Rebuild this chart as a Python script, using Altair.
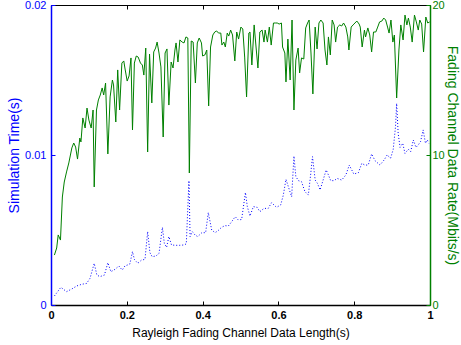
import altair as alt
import pandas as pd

# ---- data ----
rate_x = [0.009,0.015,0.019,0.025,0.030,0.035,0.041,0.047,0.055,0.060,
          0.065,0.070,0.076,0.079,0.084,0.090,0.095,0.100,0.106,0.111,
          0.114,0.120,0.125,0.130,0.135,0.139,0.144,0.150,0.156,0.162,
          0.165,0.171,0.176,0.181,0.187,0.192,0.195,0.201,0.206,0.211,
          0.215,0.220,0.225,0.230,0.236,0.241,0.245,0.250,0.255,0.260,
          0.266,0.271,0.276,0.280,0.285,0.290,0.296,0.301,0.306,0.311,
          0.317,0.322,0.327,0.330,0.335,0.340,0.346,0.351,0.356,0.361,
          0.365,0.370,0.375,0.381,0.386,0.391,0.397,0.400,0.406,0.411,
          0.416,0.421,0.427,0.432,0.437,0.442,0.448,0.451,0.456,0.460,
          0.465,0.469,0.474,0.479,0.485,0.490,0.495,0.501,0.506,0.511,
          0.516,0.522,0.525,0.530,0.536,0.541,0.546,0.551,0.557,0.562,
          0.565,0.571,0.576,0.581,0.587,0.592,0.597,0.602,0.608,0.611,
          0.617,0.620,0.625,0.631,0.636,0.641,0.646,0.652,0.656,0.661,
          0.667,0.672,0.677,0.681,0.686,0.691,0.697,0.702,0.707,0.712,
          0.718,0.723,0.728,0.732,0.737,0.742,0.747,0.751,0.756,0.762,
          0.767,0.772,0.778,0.783,0.786,0.792,0.797,0.802,0.807,0.813,
          0.816,0.821,0.827,0.830,0.836,0.841,0.846,0.851,0.857,0.862,
          0.867,0.873,0.878,0.883,0.888,0.892,0.897,0.902,0.906,0.912,
          0.918,0.923,0.929,0.934,0.939,0.943,0.948,0.953,0.959,0.964,
          0.969,0.973,0.978,0.983,0.989,0.994,0.999]
rate_mbps = [3.33,3.8,4.67,4.33,7.2,8.2,8.87,9.47,10.47,10.8,
             10.53,9.73,11.13,10.87,12.47,11.8,13.13,12.33,11.8,13.0,
             7.87,13.0,13.67,14.0,14.47,14.0,14.8,10.07,13.87,15.0,
             14.67,12.2,15.67,13.0,16.13,16.27,15.8,14.93,15.27,16.47,
             11.67,16.13,16.6,16.53,16.13,16.0,15.33,17.13,10.2,16.73,
             13.47,16.87,17.13,17.53,16.8,15.87,11.2,16.8,17.07,13.33,
             16.2,15.8,17.0,17.47,16.2,17.67,17.53,17.47,17.87,17.8,
             8.8,17.6,17.53,14.8,17.47,17.8,17.47,16.6,16.67,17.0,
             13.27,17.2,18.0,18.2,18.27,18.13,18.13,17.33,17.53,17.2,
             18.13,17.93,18.33,18.0,16.27,18.2,17.73,18.53,18.4,16.53,
             13.87,18.13,18.2,16.0,18.67,17.2,15.8,18.2,18.33,17.53,
             18.33,17.53,18.53,17.33,18.8,18.8,18.8,18.73,18.8,17.2,
             16.8,14.87,17.73,15.0,19.0,13.0,16.33,17.13,15.47,16.47,
             16.4,18.47,18.8,19.0,16.8,14.07,18.53,17.07,18.8,19.0,
             18.8,17.0,16.0,17.87,16.67,19.0,18.67,17.53,18.53,18.67,
             18.6,18.8,18.53,17.87,17.0,18.53,18.67,18.8,18.93,18.73,
             18.53,17.2,18.33,17.87,18.47,18.0,16.87,18.2,18.2,18.53,
             18.87,18.93,19.13,19.0,18.53,18.13,19.0,17.53,18.0,13.8,
             17.0,18.67,17.67,19.33,18.67,19.13,18.53,17.53,19.33,18.87,
             18.33,19.0,18.73,16.87,19.2,18.8,18.87]

time_x = [0.009,0.026,0.041,0.055,0.068,0.081,0.094,0.103,0.114,0.121,
          0.129,0.141,0.150,0.158,0.169,0.179,0.188,0.195,0.208,0.215,
          0.220,0.229,0.239,0.248,0.255,0.261,0.267,0.277,0.285,0.294,
          0.299,0.305,0.311,0.318,0.329,0.340,0.349,0.357,0.364,0.367,
          0.373,0.380,0.387,0.398,0.408,0.415,0.424,0.433,0.441,0.450,
          0.459,0.468,0.477,0.486,0.494,0.503,0.513,0.518,0.525,0.534,
          0.544,0.551,0.562,0.573,0.582,0.595,0.606,0.613,0.620,0.629,
          0.635,0.641,0.646,0.653,0.661,0.670,0.679,0.685,0.690,0.697,
          0.703,0.710,0.718,0.726,0.732,0.738,0.747,0.755,0.767,0.778,
          0.787,0.799,0.811,0.820,0.828,0.837,0.846,0.855,0.868,0.879,
          0.887,0.896,0.903,0.909,0.912,0.916,0.921,0.928,0.934,0.943,
          0.949,0.956,0.963,0.969,0.975,0.982,0.988,0.993,0.997]
time_s = [0.0006,0.00118,0.00089,0.00107,0.00127,0.00138,0.00144,0.00178,0.00278,0.0020,
          0.00189,0.0020,0.00282,0.00222,0.00238,0.0026,0.00233,0.0026,0.00273,0.00356,
          0.00304,0.00278,0.0030,0.00304,0.00489,0.00349,0.00322,0.00327,0.00344,0.00518,
          0.00411,0.00384,0.00456,0.0040,0.00398,0.00398,0.0040,0.00407,0.00829,0.00456,
          0.00489,0.00467,0.00456,0.00482,0.00482,0.00616,0.0050,0.00482,0.00496,0.00518,
          0.00529,0.00527,0.00556,0.00589,0.00567,0.0057,0.0075,0.00656,0.00593,0.00656,
          0.00651,0.00622,0.00644,0.00644,0.00682,0.00651,0.00667,0.00733,0.00838,0.00767,
          0.00722,0.00993,0.00856,0.00829,0.00822,0.00756,0.00733,0.00867,0.00989,0.00833,
          0.00811,0.00767,0.00833,0.0090,0.00867,0.00829,0.00829,0.00844,0.00833,0.00867,
          0.00933,0.00873,0.00882,0.00944,0.00933,0.00933,0.01007,0.00962,0.00933,0.00967,
          0.0100,0.00978,0.01038,0.01189,0.01344,0.01144,0.01051,0.01078,0.01011,0.01038,
          0.01022,0.0110,0.01051,0.01067,0.01089,0.01167,0.01078,0.0110,0.01078]

x_ticks = [0, 0.2, 0.4, 0.6, 0.8, 1]
time_ticks = [0, 0.01, 0.02]
rate_ticks = [0, 10, 20]

FONT = "Liberation Sans"
GREEN = "#008000"
BLUE = "#0000ff"
INWARD = {"expr": "-4"}

rate_df = pd.DataFrame({"x": rate_x, "rate": rate_mbps})
time_df = pd.DataFrame({"x": time_x, "t": time_s})

xscale = alt.Scale(domain=[0, 1], nice=False, zero=False)

time_line = alt.Chart(time_df).mark_line(
    color=BLUE, strokeWidth=1, strokeDash=[1, 2]
).encode(
    x=alt.X("x:Q", scale=xscale,
            axis=alt.Axis(orient="top", values=x_ticks, labels=False, title=None,
                          grid=False, domainColor="black", domainWidth=1,
                          tickColor="black", tickSize=INWARD)),
    y=alt.Y("t:Q", scale=alt.Scale(domain=[0, 0.02], nice=False),
            axis=alt.Axis(orient="left", values=time_ticks, format="~g",
                          title="Simulation Time(s)", grid=False,
                          domainColor=BLUE, domainWidth=1.5, tickColor=BLUE,
                          tickSize=INWARD, labelColor=BLUE, titleColor=BLUE,
                          labelFont=FONT, labelFontSize=11, labelPadding=9,
                          labelFlush=False,
                          titleFont=FONT, titleFontSize=14, titleFontWeight="normal",
                          titlePadding=3)),
)

rate_line = alt.Chart(rate_df).mark_line(
    color=GREEN, strokeWidth=1
).encode(
    x=alt.X("x:Q", scale=xscale,
            axis=alt.Axis(orient="bottom", values=x_ticks, format="~g",
                          title="Rayleigh Fading Channel Data Length(s)", grid=False,
                          domainColor="black", domainWidth=1.5, tickColor="black",
                          tickSize=INWARD, labelColor="black", labelFontWeight="bold",
                          labelFont=FONT, labelFontSize=11, labelPadding=8,
                          labelFlush=False,
                          titleFont=FONT, titleFontSize=12, titleFontWeight="normal",
                          titleColor="black", titlePadding=7)),
    y=alt.Y("rate:Q", scale=alt.Scale(domain=[0, 20], nice=False),
            axis=alt.Axis(orient="right", values=rate_ticks, format="~g",
                          title="Fading Channel Data Rate(Mbits/s)", grid=False,
                          domainColor=GREEN, domainWidth=1.5, tickColor=GREEN,
                          tickSize=INWARD, labelColor=GREEN, titleColor=GREEN,
                          labelFont=FONT, labelFontSize=11, labelPadding=6,
                          labelFlush=False,
                          titleFont=FONT, titleFontSize=14, titleFontWeight="normal",
                          titlePadding=0)),
)

chart = alt.layer(time_line, rate_line).resolve_scale(
    y="independent"
).resolve_axis(
    x="independent", y="independent"
).properties(
    width=379, height=300,
    autosize=alt.AutoSizeParams(type="none"),
    padding={"left": 51, "top": 5, "right": 31, "bottom": 40},
    background="white",
).configure_view(stroke="transparent")

chart.save("out.html", embed_options={"renderer": "svg", "actions": False})
